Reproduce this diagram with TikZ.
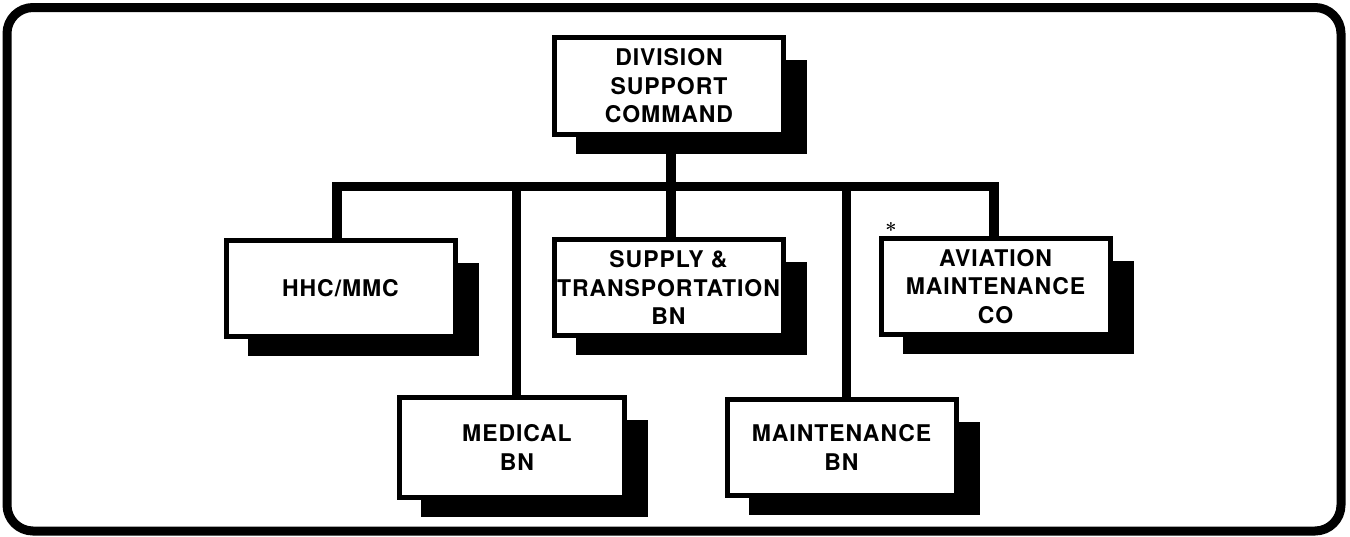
\documentclass[tikz,border=0pt]{standalone}
\usepackage{fontspec}
\usetikzlibrary{backgrounds}
\newfontfamily\unitfont[LetterSpace=4]{TeX Gyre Heros}
\begin{document}
\begin{tikzpicture}[x=1pt,y=-1pt,
  unit/.style={draw=black, line width=5pt, fill=white, align=center,
    minimum width=229pt, minimum height=96pt, inner sep=0pt,
    font=\unitfont\bfseries\fontsize{23}{28.5}\selectfont},
  conn/.style={line width=9.5pt, line join=miter, line cap=butt},
  frame/.style={line width=9pt, rounded corners=26pt}]
\useasboundingbox (0,0) rectangle (1350,536);
\draw[frame] (7,7.5) rectangle (1341,531);

% units
\node[unit, minimum height=97pt] (dsc) at (669,86)   {DIVISION\\SUPPORT\\COMMAND};
\node[unit] (hhc) at (340.5,288.5) {HHC/MMC};
\node[unit] (stb) at (668.5,287.5) {SUPPLY \&\\TRANSPORTATION\\BN};
\node[unit] (avn) at (995.5,286.5) {AVIATION\\MAINTENANCE\\CO};
\node[unit, minimum width=225pt, minimum height=100pt] (med) at (512,447.5) {\hspace{10pt}MEDICAL\\\hspace{10pt}BN};
\node[unit] (mnt) at (841.5,447.5) {MAINTENANCE\\BN};
\node[font=\bfseries\fontsize{20}{20}\selectfont, inner sep=0pt] (star) at (891,230) {*};

\coordinate (bus) at (0,186.5);

\begin{scope}[on background layer]
% connectors
\draw[conn] ([xshift=2pt]dsc.south) -- ([xshift=2pt]dsc.south |- bus);
\draw[conn] ([xshift=-3.5pt]hhc.north) |- ([xshift=-1.5pt]avn.north |- bus) -- ([xshift=-1.5pt]avn.north);
\draw[conn] ([xshift=4.5pt]med.north |- bus) -- ([xshift=4.5pt]med.north);
\draw[conn] ([xshift=2.5pt]stb.north |- bus) -- ([xshift=2.5pt]stb.north);
\draw[conn] ([xshift=5pt]mnt.north |- bus) -- ([xshift=5pt]mnt.north);
% drop shadows
\foreach \b in {dsc,hhc,stb,avn,med,mnt}{
  \fill ([shift={(24,25)}]\b.north west) rectangle ([shift={(21,17)}]\b.south east);
}
\end{scope}
\end{tikzpicture}
\end{document}
